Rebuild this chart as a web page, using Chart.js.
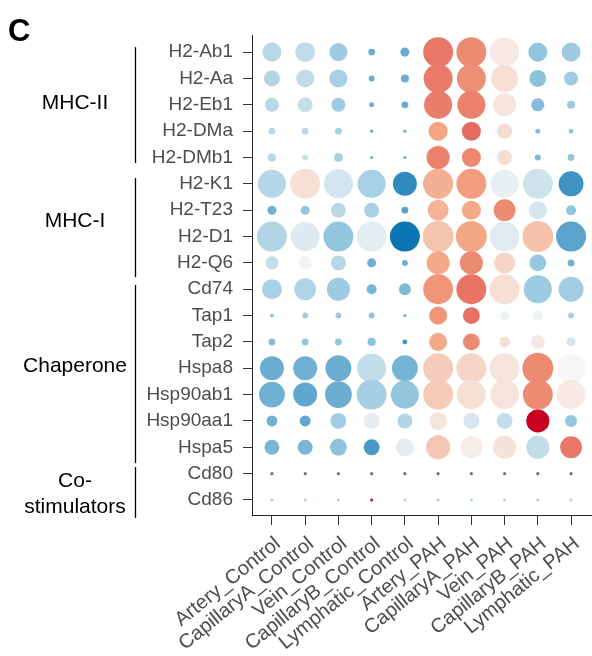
<!DOCTYPE html>
<html>
<head>
<meta charset="utf-8">
<script src="https://cdn.jsdelivr.net/npm/chart.js@4/dist/chart.umd.min.js"></script>
<style>
html,body{margin:0;padding:0;background:#fff;}
#wrap{width:592px;height:656px;position:relative;}
</style>
</head>
<body>
<div id="wrap"><canvas id="c" width="592" height="656"></canvas></div>
<script>
// ---------- data ----------
const conditions = ['Artery_Control','CapillaryA_Control','Vein_Control','CapillaryB_Control','Lymphatic_Control',
                    'Artery_PAH','CapillaryA_PAH','Vein_PAH','CapillaryB_PAH','Lymphatic_PAH'];
const genes = ['H2-Ab1','H2-Aa','H2-Eb1','H2-DMa','H2-DMb1','H2-K1','H2-T23','H2-D1','H2-Q6',
               'Cd74','Tap1','Tap2','Hspa8','Hsp90ab1','Hsp90aa1','Hspa5','Cd80','Cd86'];
const groupLabels = [['MHC-II'], ['MHC-I'], ['Chaperone'], ['Co-', 'stimulators']];
const groupRows = [[0, 4], [5, 8], [9, 15], [16, 17]];

// percent of cells expressing (dot size)
const pctExpressed = [
  [61,64,58,22,29,96,96,93,61,61],
  [51,58,58,19,26,93,93,86,54,45],
  [45,48,45,16,22,90,90,74,42,26],
  [22,22,22,10,10,61,61,48,16,16],
  [26,19,29,10,10,74,61,48,19,22],
  [90,96,93,90,77,96,96,90,96,80],
  [29,29,48,48,22,67,61,70,58,32],
  [96,93,96,96,96,99,99,96,99,96],
  [42,42,48,29,19,74,74,67,54,22],
  [64,70,74,32,38,96,96,96,90,80],
  [13,19,19,19,10,58,54,29,32,19],
  [22,22,22,26,16,58,54,35,45,29],
  [77,77,83,93,83,96,96,96,99,93],
  [83,77,86,96,90,96,93,93,96,93],
  [35,35,51,51,48,58,51,51,74,38],
  [48,48,54,51,58,77,70,74,74,70],
  [10,10,10,10,10,10,10,10,10,10],
  [10,10,10,10,10,10,10,10,10,10]
];
// scaled average expression (dot colour), null = not available
const avgExpression = [
  [-0.31,-0.27,-0.44,-0.64,-0.64, 0.64, 0.58, 0.09,-0.50,-0.44],
  [-0.34,-0.27,-0.39,-0.64,-0.64, 0.63, 0.57, 0.14,-0.52,-0.44],
  [-0.31,-0.25,-0.44,-0.64,-0.64, 0.62, 0.61, 0.11,-0.55,-0.44],
  [-0.31,-0.29,-0.39,-0.64,-0.64, 0.50, 0.68, 0.16,-0.55,-0.50],
  [-0.31,-0.24,-0.39,-0.64,-0.64, 0.61, 0.59, 0.16,-0.57,-0.50],
  [-0.32, 0.14,-0.18,-0.39,-0.85, 0.43, 0.52,-0.07,-0.20,-0.80],
  [-0.62,-0.50,-0.31,-0.39,-0.70, 0.41, 0.47, 0.58,-0.17,-0.50],
  [-0.34,-0.13,-0.50,-0.10,-0.98, 0.31, 0.49,-0.12, 0.32,-0.70],
  [-0.25,-0.03,-0.31,-0.62,-0.64, 0.47, 0.58, 0.21,-0.48,-0.62],
  [-0.39,-0.35,-0.44,-0.59,-0.57, 0.55, 0.65, 0.14,-0.44,-0.42],
  [-0.50,-0.42,-0.44,-0.50,-0.64, 0.55, 0.66,-0.05,-0.05,-0.39],
  [-0.55,-0.50,-0.50,-0.52,-0.76, 0.47, 0.58, 0.14, 0.09,-0.18],
  [-0.64,-0.62,-0.64,-0.26,-0.60, 0.26, 0.21, 0.11, 0.58,-0.01],
  [-0.62,-0.68,-0.64,-0.40,-0.50, 0.27, 0.14, 0.12, 0.58, 0.08],
  [-0.62,-0.68,-0.42,-0.10,-0.34, 0.11,-0.17,-0.25, 1.00,-0.50],
  [-0.59,-0.59,-0.52,-0.76,-0.10, 0.29, 0.07, 0.13,-0.26, 0.64],
  [null,null,null,null,null,null,null,null,null,null],
  [-0.36,-0.36,-0.36, 0.95,-0.36,-0.36,-0.36,-0.36,-0.36,-0.36]
];

// ---------- styling helpers ----------
const FONT = '"Liberation Sans", Arial, Helvetica, sans-serif';
const stops = [[-1,[5,113,176]],[-0.5,[146,197,222]],[0,[247,247,247]],[0.5,[244,165,130]],[1,[202,0,32]]];
function colourFor(v){
  if (v === null || v === undefined) return '#707070';
  v = Math.max(-1, Math.min(1, v));
  for (let i = 0; i < stops.length - 1; i++){
    const [a, ca] = stops[i], [b, cb] = stops[i+1];
    if (v >= a && v <= b){
      const t = (v - a) / (b - a);
      const c = ca.map((k, j) => Math.round(k + (cb[j] - k) * t));
      return `rgb(${c[0]},${c[1]},${c[2]})`;
    }
  }
  return '#f7f7f7';
}
function radiusFor(p){ return p / 100 * 15.6; }

const points = [];
genes.forEach((g, gi) => {
  conditions.forEach((c, ci) => {
    points.push({x: ci, y: gi, pct: pctExpressed[gi][ci], z: avgExpression[gi][ci]});
  });
});

const groupPlugin = {
  id: 'groups',
  afterDraw(chart){
    const ctx = chart.ctx, ys = chart.scales.y;
    ctx.save();
    ctx.fillStyle = '#000';
    ctx.font = 'bold 31px ' + FONT;
    ctx.textAlign = 'left';
    ctx.textBaseline = 'alphabetic';
    ctx.fillText('C', 8, 41);

    const spans = [[-0.19, 4.21], [4.78, 8.54], [8.84, 15.6], [15.75, 17.68]];
    ctx.strokeStyle = '#000';
    ctx.lineWidth = 1.3;
    ctx.font = '21px ' + FONT;
    ctx.textAlign = 'center';
    ctx.textBaseline = 'middle';
    groupLabels.forEach((lines, i) => {
      const x = 135.5;
      ctx.beginPath();
      ctx.moveTo(x, ys.getPixelForValue(spans[i][0]));
      ctx.lineTo(x, ys.getPixelForValue(spans[i][1]));
      ctx.stroke();
      const [r0, r1] = groupRows[i];
      let cy = (ys.getPixelForValue(r0) + ys.getPixelForValue(r1)) / 2 - 2;
      if (lines.length > 1) cy += 9;
      const lh = 26;
      lines.forEach((t, k) => {
        ctx.fillText(t, 75, cy + (k - (lines.length - 1) / 2) * lh);
      });
    });
    ctx.restore();
  }
};

new Chart(document.getElementById('c'), {
  type: 'scatter',
  data: {
    datasets: [{
      data: points,
      pointRadius: ctx => radiusFor(ctx.raw.pct),
      pointHoverRadius: ctx => radiusFor(ctx.raw.pct),
      backgroundColor: ctx => colourFor(ctx.raw.z),
      borderWidth: 0,
      pointStyle: 'circle',
      clip: false
    }]
  },
  options: {
    responsive: false,
    animation: false,
    devicePixelRatio: 1,
    events: [],
    layout: {autoPadding: false, padding: {top: 35, right: 1, left: 0, bottom: 0}},
    plugins: {legend: {display: false}, tooltip: {enabled: false}},
    scales: {
      x: {
        type: 'linear', min: -0.6, max: 9.6,
        afterBuildTicks: s => { s.ticks = conditions.map((_, i) => ({value: i})); },
        afterFit: s => { s.height = 141; s.paddingLeft = 0; s.paddingRight = 0; },
        grid: {drawOnChartArea: false, drawTicks: true, tickLength: 10, color: '#333', lineWidth: 1},
        border: {display: true, color: '#222', width: 1},
        ticks: {
          autoSkip: false, minRotation: 39, maxRotation: 39, padding: 7, labelOffset: 6,
          color: '#4d4d4d', font: {family: FONT, size: 20},
          callback: v => conditions[v]
        }
      },
      y: {
        type: 'linear', min: -0.65, max: 17.57, reverse: true,
        afterBuildTicks: s => { s.ticks = genes.map((_, i) => ({value: i})); },
        afterFit: s => { s.width = 252; s.paddingTop = 0; s.paddingBottom = 0; },
        grid: {drawOnChartArea: false, drawTicks: true, tickLength: 9, color: '#333', lineWidth: 1},
        border: {display: true, color: '#222', width: 1},
        ticks: {
          autoSkip: false, padding: 10,
          color: '#4d4d4d', font: {family: FONT, size: 19},
          callback: v => genes[v]
        }
      }
    }
  },
  plugins: [groupPlugin]
});
</script>
</body>
</html>
